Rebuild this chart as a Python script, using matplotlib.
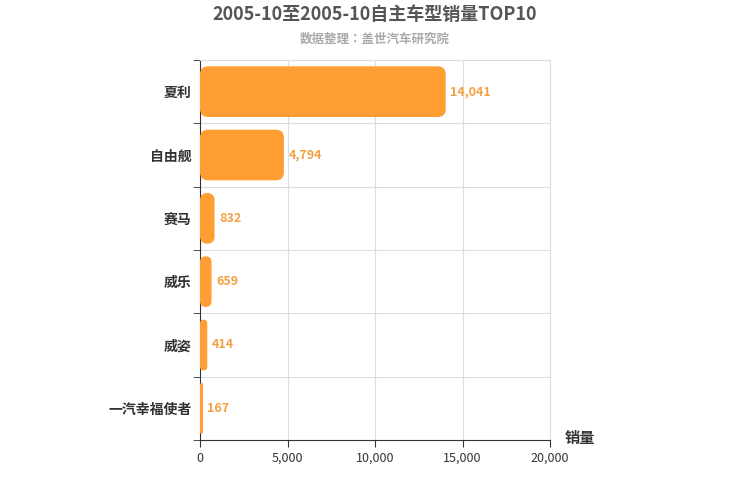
import matplotlib
matplotlib.use("Agg")
import matplotlib.pyplot as plt
from matplotlib.patches import FancyBboxPatch

plt.rcParams["font.family"] = ["Noto Sans CJK SC", "Noto Sans CJK JP", "DejaVu Sans"]

models = ["夏利", "自由舰", "赛马", "威乐", "威姿", "一汽幸福使者"]
sales = [14041, 4794, 832, 659, 414, 167]
xticks = [0, 5000, 10000, 15000, 20000]

fig = plt.figure(figsize=(7.5, 5), dpi=100)
ax = fig.add_axes([200 / 750, 60 / 500, 350 / 750, 380 / 500])

n = len(models)
ax.set_xlim(0, 20000)
ax.set_ylim(n, 0)
bar_h = 0.8
x_per_px = 20000 / 350
y_per_px = n / 380
for i, v in enumerate(sales):
    y0 = i + (1 - bar_h) / 2
    r = min(8 * x_per_px, v / 2)
    ax.add_patch(FancyBboxPatch((0, y0), v, bar_h,
                                boxstyle=f"round,pad=0,rounding_size={r}",
                                mutation_aspect=y_per_px / x_per_px,
                                facecolor="#ff9f33", edgecolor="none", zorder=3))
    ax.text(v + 250, i + 0.5, f"{v:,}", va="center", ha="left",
            color="#f5a142", fontsize=9, fontweight="bold", zorder=4)

ax.set_yticks([i + 0.5 for i in range(n)])
ax.set_yticklabels(models, fontsize=10, fontweight="bold", color="#333333")
ax.set_yticks(range(n + 1), minor=True)
ax.set_xticks(xticks)
ax.set_xticklabels([f"{t:,}" for t in xticks], fontsize=9, color="#333333")
ax.tick_params(axis="y", which="major", length=0, pad=6)
ax.tick_params(axis="y", which="minor", length=5, color="#333333")
ax.tick_params(axis="x", length=5, color="#333333")
ax.grid(axis="x", color="#dddddd", zorder=0)
ax.grid(axis="y", which="minor", color="#dddddd", zorder=0)
for s in ["top", "right"]:
    ax.spines[s].set_color("#dddddd")
ax.spines["left"].set_color("#333333")
ax.spines["bottom"].set_color("#333333")

fig.text(0.5, 1 - 14 / 500, "2005-10至2005-10自主车型销量TOP10", ha="center", va="center",
         fontsize=13, fontweight="bold", color="#555555")
fig.text(0.5, 1 - 39 / 500, "数据整理：盖世汽车研究院", ha="center", va="center",
         fontsize=9, fontweight="bold", color="#aaaaaa")
fig.text(565 / 750, 1 - 438 / 500, "销量", ha="left", va="center",
         fontsize=11, fontweight="bold", color="#333333")

fig.savefig("out.png", dpi=100)
